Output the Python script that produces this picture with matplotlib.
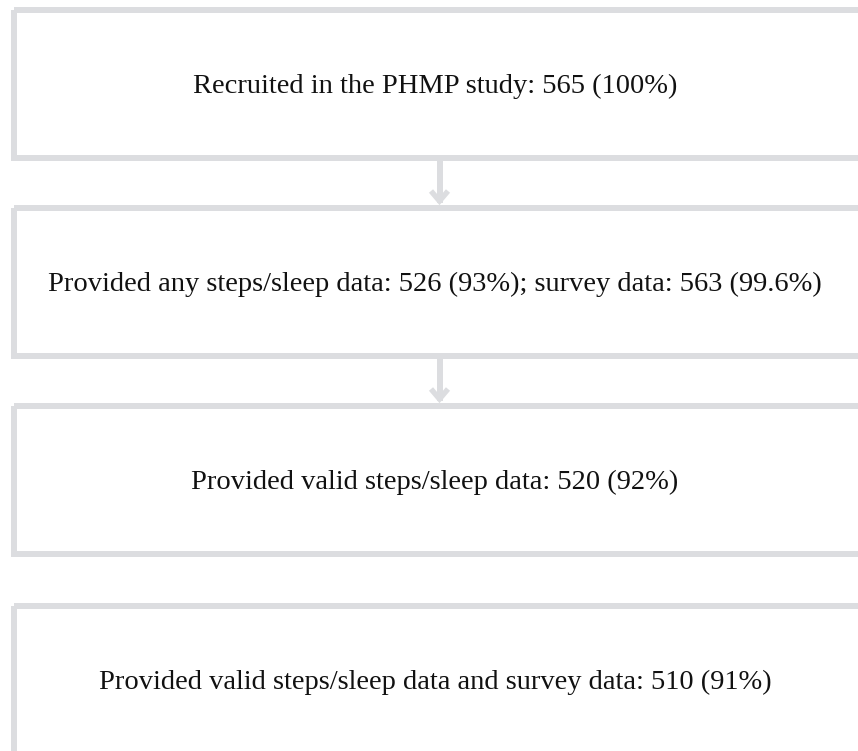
import matplotlib.pyplot as plt
from matplotlib.patches import Rectangle

# flow chart steps
labels = [
    "Recruited in the PHMP study: 565 (100%)",
    "Provided any steps/sleep data: 526 (93%); survey data: 563 (99.6%)",
    "Provided valid steps/sleep data: 520 (92%)",
    "Provided valid steps/sleep data and survey data: 510 (91%)",
]
box_tops = [10, 208, 406, 606]   # pixel rows of the box tops
arrows = [(0, 1), (1, 2)]        # which boxes are joined by an arrow

W, H = 858, 751
box_h = 148
border = "#dcdde0"
lw = 6 * 72 / 100  # 6 px

fig = plt.figure(figsize=(W / 100, H / 100), dpi=100)
ax = fig.add_axes([0, 0, 1, 1])
ax.set_xlim(0, W)
ax.set_ylim(H, 0)
ax.axis("off")

for lab, top in zip(labels, box_tops):
    ax.add_patch(Rectangle((14, top), 852, box_h, fill=False,
                           edgecolor=border, linewidth=lw, joinstyle="miter"))
    ax.text(435, top + box_h / 2 + 2, lab, ha="center", va="center",
            fontsize=20.5, family="Liberation Serif", color="#111111")

for a, b in arrows:
    y0 = box_tops[a] + box_h + 3
    y1 = box_tops[b] - 3
    ax.plot([439.5, 439.5], [y0, y1 - 2], color=border, lw=lw,
            solid_capstyle="butt")
    ax.plot([431, 439.5, 448], [y1 - 14, y1 - 4, y1 - 14], color=border,
            lw=lw * 0.9, solid_joinstyle="miter", solid_capstyle="butt")

fig.savefig("out.png", dpi=100)
